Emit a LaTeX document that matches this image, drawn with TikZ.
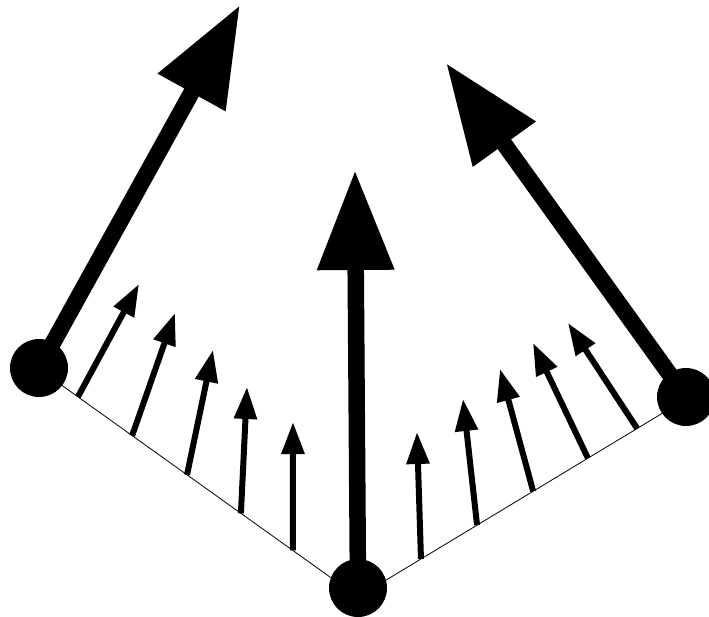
\documentclass[tikz,border=0pt]{standalone}
\usepackage{tikz}
\usetikzlibrary{positioning, arrows.meta}

\begin{document}
\begin{tikzpicture}[
    x=1pt, y=-1pt,
    dot/.style={
        circle,
        fill=black,
        inner sep=0pt,
        minimum size=58pt
    },
    bigarrow/.style={
        -{Triangle[length=100pt, width=73pt]},
        line width=16.5pt
    },
    smallarrow/.style={
        -{Triangle[length=32pt, width=22pt]},
        line width=6pt
    },
    thinedge/.style={
        line width=0.8pt
    }
]
\useasboundingbox (0,0) rectangle (709,616);

% Corner points
\coordinate (L) at (39,368);
\coordinate (B) at (358,588);
\coordinate (R) at (686,397);
\coordinate (apex) at (358,597);
\coordinate (lstart) at (39,369);
\coordinate (rend) at (686,399);

% Big arrow tips
\coordinate (ltip) at (240,5);
\coordinate (btip) at (355,170);
\coordinate (rtip) at (446,63);

% Thin edges
\draw [thinedge] (lstart) -- (apex) -- (rend);

% Small arrows: left edge
\foreach \i/\p/\tx/\ty in {1/0.122/139/284, 2/0.292/175/313, 3/0.464/213/350, 4/0.633/247/387, 5/0.796/293/422} {
    \path (lstart) -- (apex) coordinate[pos=\p] (lbase\i);
    \coordinate (lhead\i) at (\tx,\ty);
    \draw [smallarrow] (lbase\i) -- (lhead\i);
}

% Small arrows: right edge
\foreach \i/\p/\tx/\ty in {1/0.192/417/432, 2/0.363/463/399, 3/0.534/500/369, 4/0.701/533/343, 5/0.851/568/323} {
    \path (apex) -- (rend) coordinate[pos=\p] (rbase\i);
    \coordinate (rhead\i) at (\tx,\ty);
    \draw [smallarrow] (rbase\i) -- (rhead\i);
}

% Big arrows
\draw [bigarrow] (L) -- (ltip);
\draw [bigarrow] (B) -- (btip);
\draw [bigarrow] (R) -- (rtip);

% Dots on top
\node (ldot) at (L) [dot] {};
\node (bdot) at (B) [dot] {};
\node (rdot) at (R) [dot] {};

\end{tikzpicture}
\end{document}
